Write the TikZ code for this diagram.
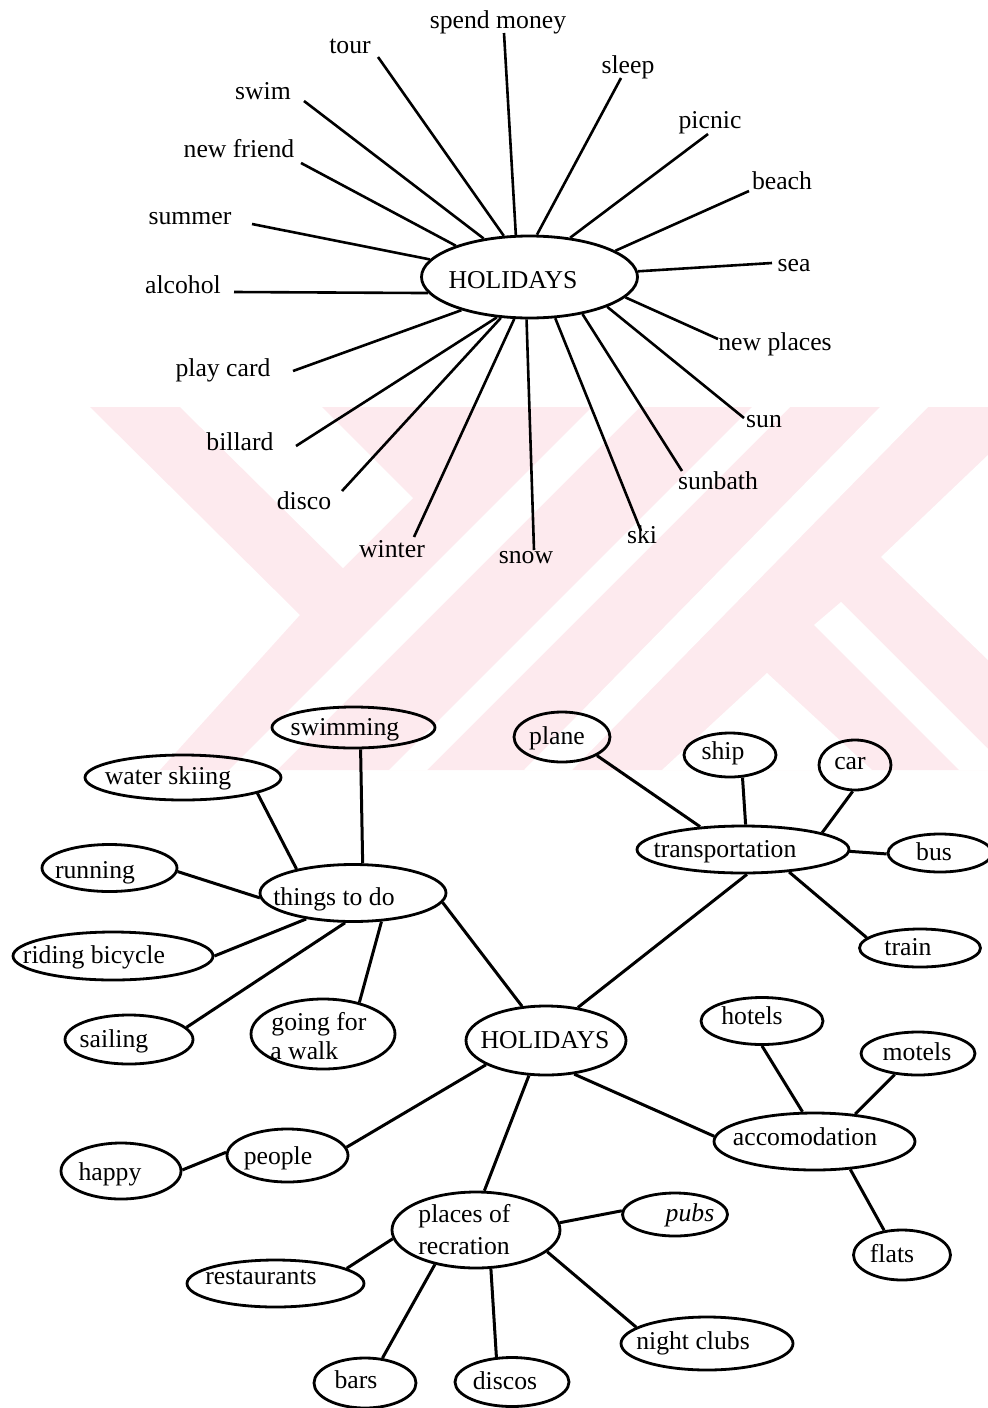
\documentclass[tikz,border=0pt]{standalone}
\usepackage{fontspec}
\setmainfont{Liberation Serif}
\usetikzlibrary{shapes.geometric}
\definecolor{wmpink}{RGB}{253,234,238}
\begin{document}
\begin{tikzpicture}[x=0.5pt,y=-0.5pt,
  txt/.style={inner sep=0pt,text height=0.9em,text depth=0.13em,font=\fontsize{12.85pt}{15pt}\selectfont},
  two/.style={inner sep=0pt,anchor=base west,font=\fontsize{12.85pt}{15pt}\selectfont},
  ov/.style 2 args={ellipse,draw,line width=1.4pt,inner sep=0pt,minimum width=#1*0.5pt,minimum height=#2*0.5pt},
  spoke/.style={line width=1.3pt},
  link/.style={line width=1.5pt}]
\useasboundingbox (0,0) rectangle (988,1408);
% faint watermark
\fill[wmpink] (90,407) -- (988,407) -- (988,770) -- (160,770) -- (300,615) -- cycle;
\fill[white] (180,407) -- (322,407) -- (413,498) -- (343,568) -- cycle;
\fill[white] (592,407) -- (640,407) -- (277,770) -- (229,770) -- cycle;
\fill[white] (752,407) -- (790,407) -- (427,770) -- (389,770) -- cycle;
\fill[white] (880,407) -- (928,407) -- (572,770) -- (524,770) -- cycle;
\fill[white] (662,770) -- (767,673) -- (872,770) -- cycle;
\fill[white] (988,455) -- (881,557) -- (988,660) -- cycle;
\fill[white] (814,625) -- (841,602) -- (988,749) -- (988,770) -- (959,770) -- cycle;

% ===== top: spider diagram =====
\node[ov={216}{82}] (hol1) at (529.5,277) {};
\node[txt] (hol1t) at (513,281) {HOLIDAYS};

\node[txt] (lspend) at (498,21) {spend money};
\node[txt] (ltour) at (350,46) {tour};
\node[txt] (lswim) at (263,92) {swim};
\node[txt] (lfriend) at (239,150) {new friend};
\node[txt] (lsummer) at (190,217) {summer};
\node[txt] (lalcohol) at (183,286) {alcohol};
\node[txt] (lplay) at (223,369) {play card};
\node[txt] (lbillard) at (240,443) {billard};
\node[txt] (ldisco) at (304,502) {disco};
\node[txt] (lwinter) at (392,550) {winter};
\node[txt] (lsnow) at (526,556) {snow};
\node[txt] (lski) at (642,536) {ski};
\node[txt] (lsunbath) at (718,482) {sunbath};
\node[txt] (lsun) at (764,420) {sun};
\node[txt] (lnewpl) at (775,343) {new places};
\node[txt] (lsea) at (794,264) {sea};
\node[txt] (lbeach) at (782,182) {beach};
\node[txt] (lpicnic) at (710,121) {picnic};
\node[txt] (lsleep) at (628,66) {sleep};

\coordinate (espend) at (504,33);
\coordinate (etour) at (378,57);
\coordinate (eswim) at (304,101);
\coordinate (efriend) at (301,163);
\coordinate (esummer) at (252,224);
\coordinate (ealcohol) at (234,292);
\coordinate (eplay) at (293,371);
\coordinate (ebillard) at (296,446);
\coordinate (edisco) at (342,491);
\coordinate (ewinter) at (414,537);
\coordinate (esnow) at (534,550);
\coordinate (eski) at (641,531);
\coordinate (esunbath) at (682,471);
\coordinate (esun) at (744,418);
\coordinate (enewpl) at (718,339);
\coordinate (esea) at (772,263);
\coordinate (ebeach) at (749,191);
\coordinate (epicnic) at (708,134);
\coordinate (esleep) at (621,78);

\draw[spoke] (hol1.108) -- (espend);
\draw[spoke] (hol1.122) -- (etour);
\draw[spoke] (hol1.140.6) -- (eswim);
\draw[spoke] (hol1.157.8) -- (efriend);
\draw[spoke] (hol1.170.7) -- (esummer);
\draw[spoke] (hol1.189.2) -- (ealcohol);
\draw[spoke] (hol1.206.7) -- (eplay);
\draw[spoke] (hol1.231.3) -- (ebillard);
\draw[spoke] (hol1.235.2) -- (edisco);
\draw[spoke] (hol1.250.5) -- (ewinter);
\draw[spoke] (hol1.266.5) -- (esnow);
\draw[spoke] (hol1.302.9) -- (eski);
\draw[spoke] (hol1.325.6) -- (esunbath);
\draw[spoke] (hol1.339.9) -- (esun);
\draw[spoke] (hol1.348.4) -- (enewpl);
\draw[spoke] (hol1.3.2) -- (esea);
\draw[spoke] (hol1.17.2) -- (ebeach);
\draw[spoke] (hol1.44.6) -- (epicnic);
\draw[spoke] (hol1.80.1) -- (esleep);

% ===== bottom: mind map =====
\node[ov={160}{69}] (hol2) at (546,1040.5) {};
\node[ov={163}{41}] (swim) at (353.5,727.5) {};
\node[ov={196}{45}] (wsk) at (183,777.5) {};
\node[ov={135}{47}] (run) at (109.5,868) {};
\node[ov={186}{57}] (tdo) at (353,893) {};
\node[ov={200}{48}] (bic) at (113,956) {};
\node[ov={128}{49}] (sail) at (129,1039.5) {};
\node[ov={144}{70}] (walk) at (323,1034) {};
\node[ov={96}{50}] (plane) at (562,737) {};
\node[ov={92}{44}] (ship) at (730,755) {};
\node[ov={72}{50}] (car) at (855,765) {};
\node[ov={212}{47}] (trans) at (743,849.5) {};
\node[ov={104}{38}] (bus) at (940,853) {};
\node[ov={121}{38}] (train) at (920,948) {};
\node[ov={122}{47}] (hotels) at (762,1021) {};
\node[ov={114}{43}] (motels) at (918,1053.5) {};
\node[ov={201}{57}] (acc) at (814.5,1141.5) {};
\node[ov={97}{50}] (flats) at (902,1255) {};
\node[ov={121}{53}] (people) at (287.5,1155.5) {};
\node[ov={120}{56}] (happy) at (121,1171) {};
\node[ov={168}{76}] (places) at (476,1230) {};
\node[ov={105}{43}] (pubs) at (675,1214.5) {};
\node[ov={177}{47}] (rest) at (275.5,1283.5) {};
\node[ov={102}{50}] (bars) at (365,1383) {};
\node[ov={114}{49}] (discos) at (512,1382) {};
\node[ov={172}{53}] (night) at (707,1343.5) {};

\node[txt] (hol2t) at (545,1041) {HOLIDAYS};
\node[txt] (swimt) at (345,728) {swimming};
\node[txt] (wskt) at (168,777) {water skiing};
\node[txt] (runt) at (95,871) {running};
\node[txt] (tdot) at (334,898) {things to do};
\node[txt] (bict) at (94,956) {riding bicycle};
\node[txt] (sailt) at (114,1040) {sailing};
\node[two] (walkt1) at (271,1030) {going for};
\node[two] (walkt2) at (270,1059) {a walk};
\node[txt] (planet) at (557,737) {plane};
\node[txt] (shipt) at (723,752) {ship};
\node[txt] (cart) at (850,762) {car};
\node[txt] (transt) at (725,850) {transportation};
\node[txt] (bust) at (934,853) {bus};
\node[txt] (traint) at (908,948) {train};
\node[txt] (hotelst) at (752,1017) {hotels};
\node[txt] (motelst) at (917,1053) {motels};
\node[txt] (acct) at (805,1138) {accomodation};
\node[txt] (flatst) at (892,1255) {flats};
\node[txt] (peoplet) at (278,1157) {people};
\node[txt] (happyt) at (110,1173) {happy};
\node[two] (placest1) at (418,1222) {places of};
\node[two] (placest2) at (418,1254) {recration};
\node[txt] (pubst) at (690,1214) {\itshape pubs};
\node[txt] (restt) at (261,1277) {restaurants};
\node[txt] (barst) at (356,1381) {bars};
\node[txt] (discost) at (505,1382) {discos};
\node[txt] (nightt) at (693,1342) {night clubs};

\draw[link] (tdo.72) -- (swim.-72);
\draw[link] (tdo.157) -- (wsk.-12);
\draw[link] (tdo.183) -- (run.-3);
\draw[link] (tdo.209) -- (bic.0);
\draw[link] (tdo.255) -- (sail.12);
\draw[link] (tdo.315) -- (walk.41);
\draw[link] (tdo.-6) -- (hol2.125);
\draw[link] (hol2.46) -- (trans.-81);
\draw[link] (trans.152) -- (plane.-28);
\draw[link] (trans.84) -- (ship.-61);
\draw[link] (trans.12) -- (car.-95);
\draw[link] (trans.-1) -- (bus.181);
\draw[link] (trans.-26) -- (train.169);
\draw[link] (hol2.-50) -- (acc.177);
\draw[link] (acc.112) -- (hotels.-90);
\draw[link] (acc.34) -- (motels.222);
\draw[link] (acc.-38) -- (flats.126);
\draw[link] (hol2.202) -- (people.8);
\draw[link] (people.177) -- (happy.1);
\draw[link] (hol2.244) -- (places.78);
\draw[link] (places.5) -- (pubs.176);
\draw[link] (places.186) -- (rest.12);
\draw[link] (places.220) -- (bars.55);
\draw[link] (places.291) -- (discos.122);
\draw[link] (places.343) -- (night.167);
\end{tikzpicture}
\end{document}
